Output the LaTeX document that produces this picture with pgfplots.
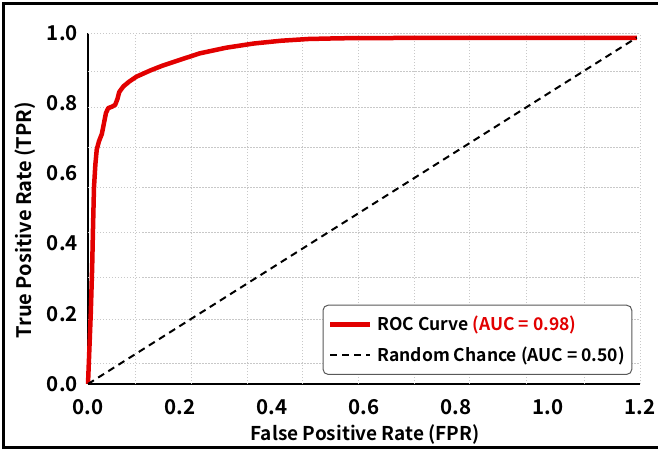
\documentclass[border=0pt]{standalone}
\usepackage{pgfplots}
\pgfplotsset{compat=1.18}
\usepackage{fontspec}
\setmainfont{Noto Sans CJK KR}[BoldFont={* Bold}]
\definecolor{rocred}{RGB}{226,0,0}
\definecolor{gridgray}{RGB}{200,200,200}

\pgfplotstableread{
fpr    tpr
0.000  0.000
0.003  0.100
0.006  0.200
0.009  0.330
0.011  0.450
0.013  0.560
0.016  0.625
0.019  0.668
0.024  0.692
0.030  0.712
0.035  0.745
0.039  0.772
0.044  0.786
0.052  0.790
0.059  0.795
0.064  0.812
0.068  0.832
0.077  0.848
0.090  0.862
0.106  0.876
0.135  0.893
0.160  0.906
0.185  0.917
0.215  0.930
0.243  0.942
0.300  0.958
0.360  0.970
0.420  0.978
0.480  0.983
0.550  0.985
0.700  0.986
1.193  0.986
}\roc

\begin{document}
\begin{tikzpicture}[x=1pt,y=1pt]
\begin{axis}[
  at={(0pt,0pt)}, anchor=origin,
  scale only axis, width=552pt, height=351pt,
  xmin=0, xmax=1.2, ymin=0, ymax=1,
  axis x line=bottom, axis y line=left,
  axis line style={-, line width=1.6pt, black},
  xtick={0,0.2,...,1.2}, ytick={0,0.2,...,1.0},
  major tick length=0pt,
  /pgf/number format/.cd, fixed, fixed zerofill, precision=1, assume math mode=true,
  /pgfplots/.cd,
  ticklabel style={font=\bfseries\fontsize{20.5}{20.5}\selectfont, inner sep=0pt},
  xticklabel style={anchor=center, yshift=-23pt},
  yticklabel style={anchor=east, xshift=-10pt},
  extra x ticks={0.102,0.224,0.346,0.465,0.587,0.709,0.830,0.954,1.078,1.2},
  extra x tick labels={},
  extra y ticks={0.06,0.183,0.303,0.431,0.56,0.674,0.789,0.891,1.0},
  extra y tick labels={},
  extra tick style={grid=major, major tick length=0pt},
  major grid style={gridgray, line width=0.7pt, dash pattern=on 1.5pt off 1.5pt},
  xlabel={False Positive Rate (FPR)},
  ylabel={True Positive Rate (TPR)},
  label style={font=\bfseries\fontsize{19}{19}\selectfont},
  xlabel style={at={(axis description cs:0.502,0)}, anchor=center, yshift=-50pt},
  ylabel style={at={(axis description cs:-0.114,0.467)}, anchor=center,
    font=\bfseries\fontsize{20}{20}\selectfont},
  clip=false,
  legend cell align=left,
  legend image code/.code={\draw[#1] (0pt,0pt) -- (40pt,0pt);},
  legend style={at={(rel axis cs:0.986,0.026)}, anchor=south east,
    draw=black!65, line width=1pt, rounded corners=5pt,
    font=\bfseries\fontsize{17.5}{20}\selectfont,
    inner xsep=5pt, inner ysep=9pt, row sep=11pt,
    /tikz/every odd column/.append style={column sep=3pt}},
]
\addplot[rocred, line width=4.5pt, line join=round] table[x=fpr, y=tpr] {\roc};
\addlegendentry{ROC Curve \textcolor{rocred}{(AUC = 0.98)}}
\addplot[black, line width=2pt, dash pattern=on 7pt off 5pt] coordinates {(0,0) (1.193,0.987)};
\addlegendentry{Random Chance (AUC = 0.50)}
\end{axis}
\draw[line width=3pt] (574,380) -- (-84,380) -- (-84,-63) -- (574,-63);
\pgfresetboundingbox
\useasboundingbox (-88,-67) rectangle (570,384);
\end{tikzpicture}
\end{document}
